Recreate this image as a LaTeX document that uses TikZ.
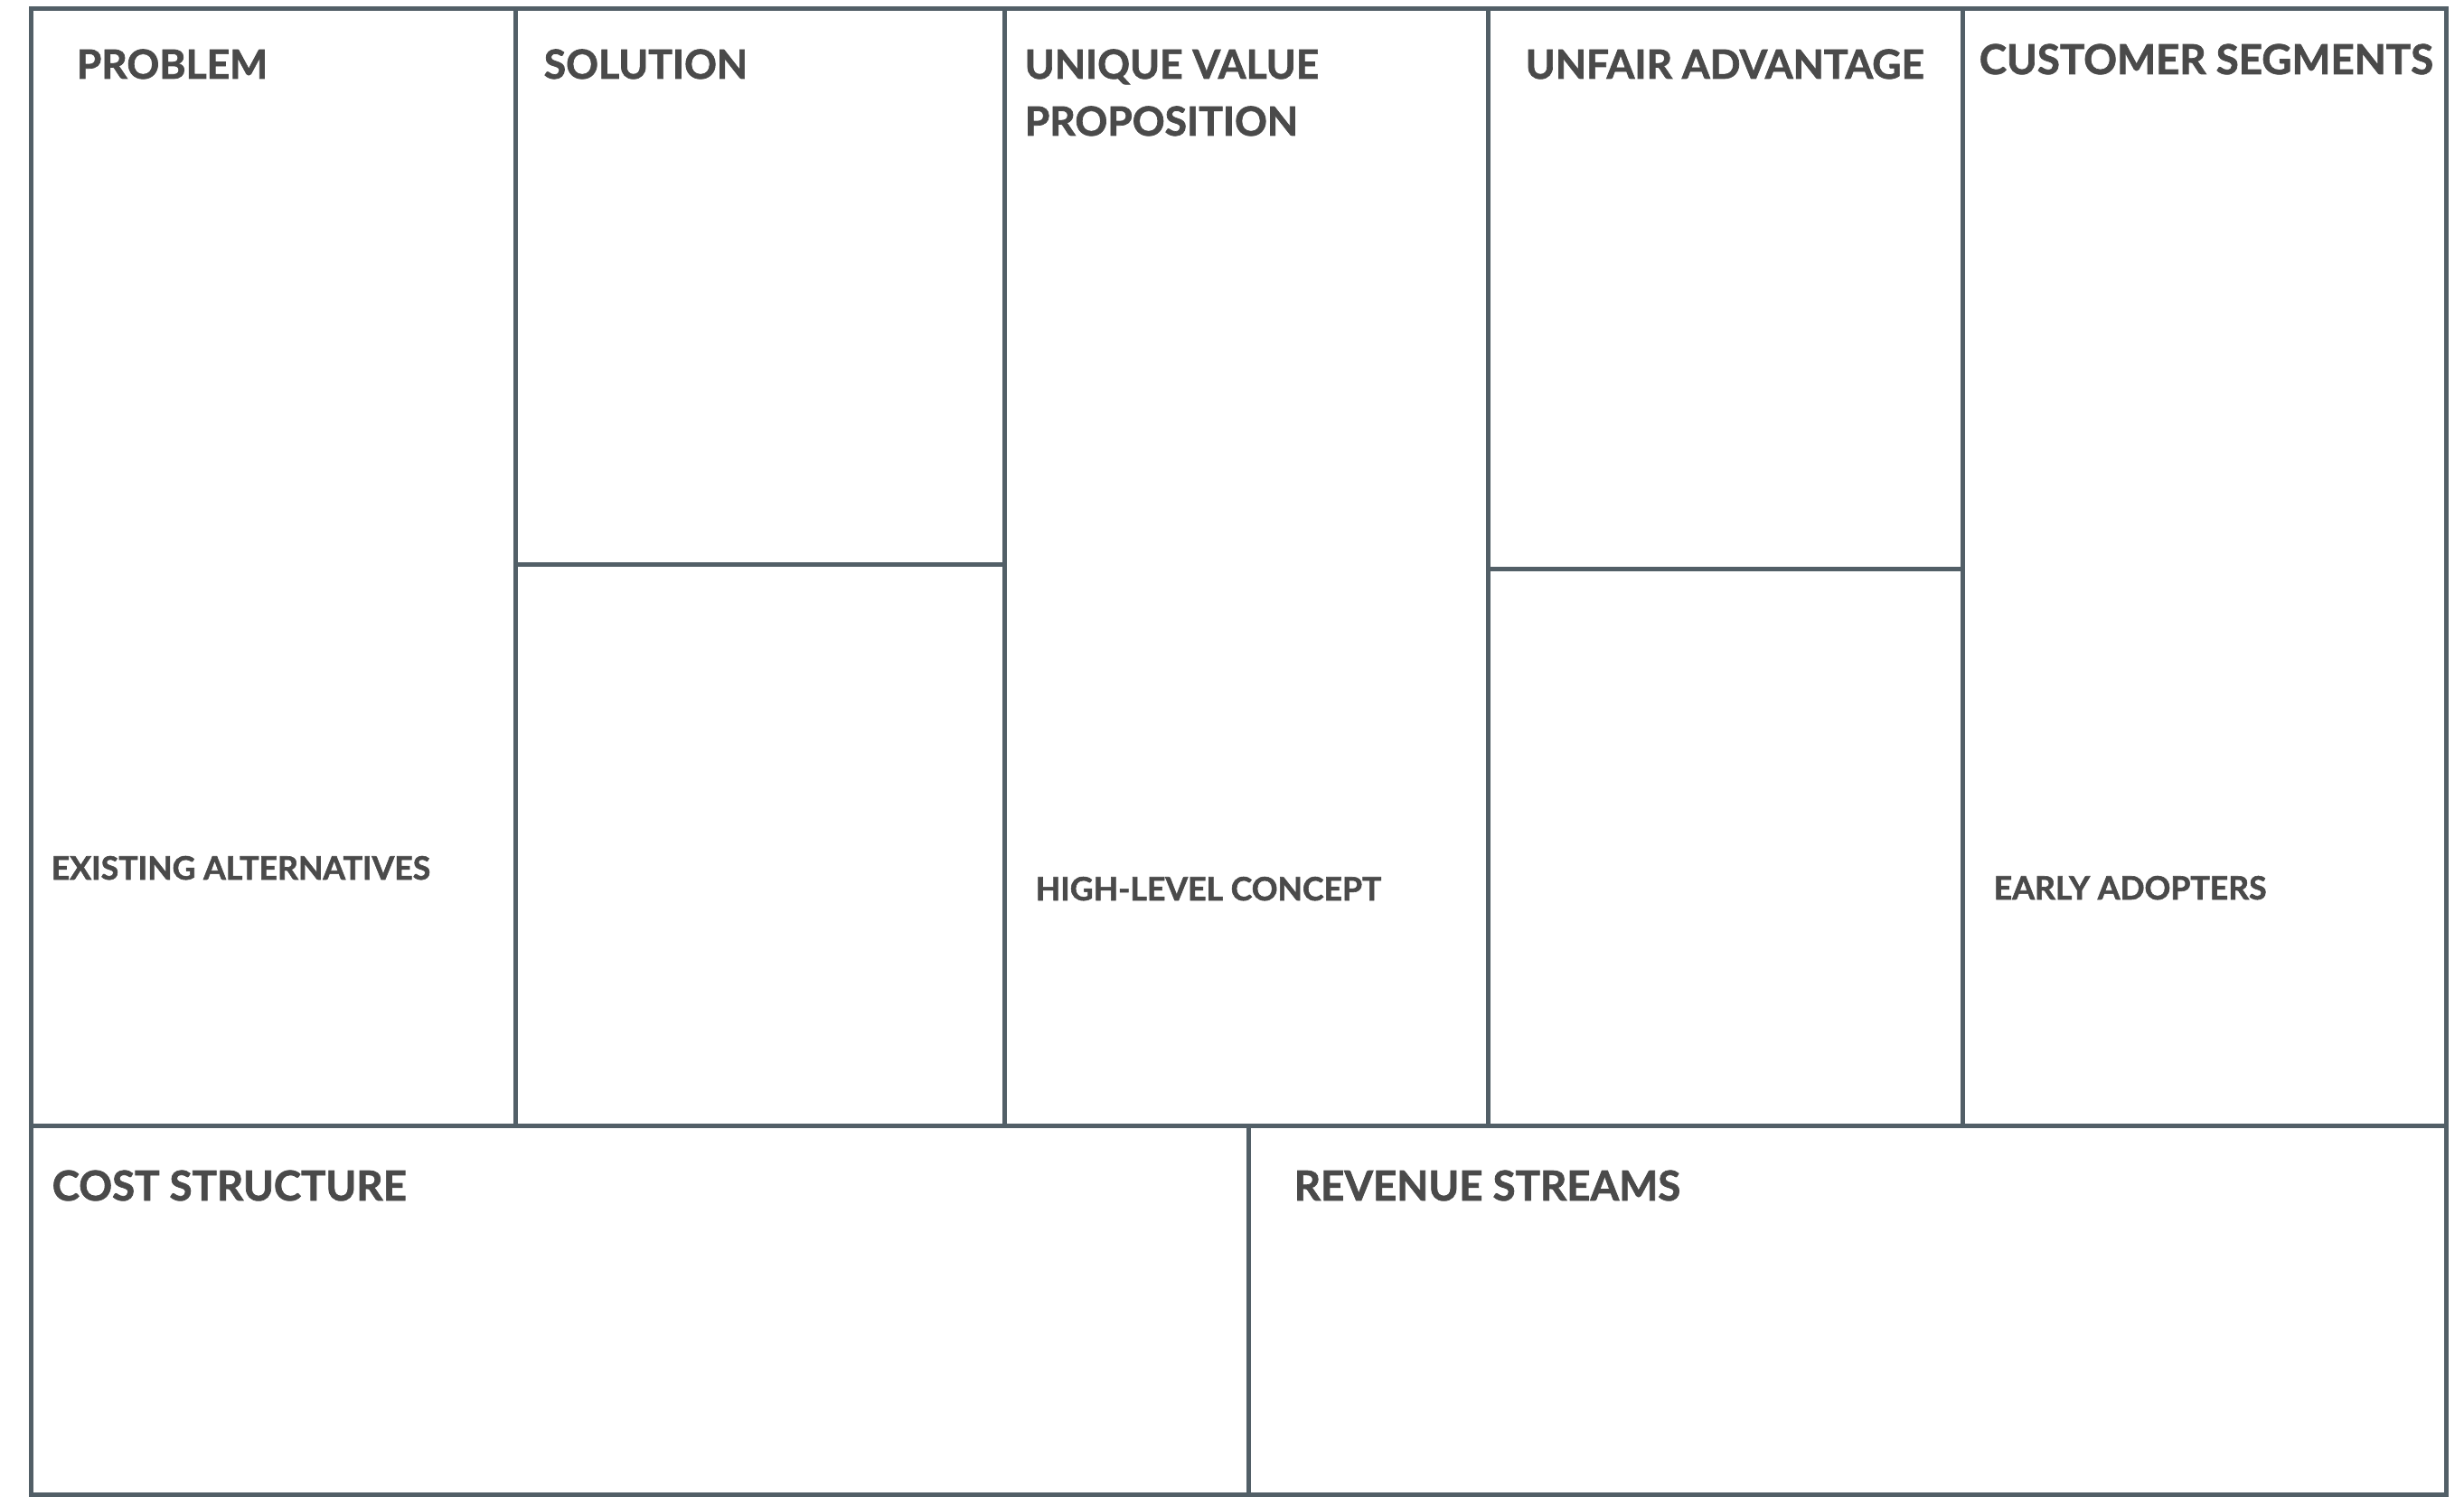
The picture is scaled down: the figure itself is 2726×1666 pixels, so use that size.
\documentclass[tikz,border=0pt]{standalone}
\usepackage{fontspec}
\setmainfont{Lato}[BoldFeatures={FakeBold=1.6}]
\definecolor{gridline}{HTML}{525F67}
\definecolor{labeltext}{HTML}{4A4A4A}
\begin{document}
\begin{tikzpicture}[x=0.25pt,y=-0.25pt,
  gridrule/.style={draw=gridline,line width=1.25pt},
  head/.style={anchor=base west,inner sep=0pt,text=labeltext,font=\fontsize{11.1}{13}\selectfont\bfseries},
  bighead/.style={head,font=\fontsize{11.4}{13}\selectfont\bfseries},
  sublabel/.style={anchor=base west,inner sep=0pt,text=labeltext,font=\fontsize{8.9}{10}\selectfont\bfseries}]
\useasboundingbox (0,0) rectangle (2726,1666);
\fill[white] (0,0) rectangle (2726,1666);
% frame and dividers
\draw[gridrule] (34.5,9.5) rectangle (2706.5,1653);
\draw[gridrule] (34.5,1245) -- (2706.5,1245);
\draw[gridrule] (570,9.5) -- (570,1245);
\draw[gridrule] (1111,9.5) -- (1111,1245);
\draw[gridrule] (1646.5,9.5) -- (1646.5,1245);
\draw[gridrule] (2171,9.5) -- (2171,1245);
\draw[gridrule] (570,624.5) -- (1111,624.5);
\draw[gridrule] (1646.5,629.5) -- (2171,629.5);
\draw[gridrule] (1381.5,1245) -- (1381.5,1653);
% headings
\node[head] (problem) at (84,87) {PROBLEM};
\node[head] (solution) at (601,87) {SOLUTION};
\node[head] (uvpa) at (1133,87) {UNIQUE VALUE};
\node[head] (uvpb) at (1133,150) {PROPOSITION};
\node[head] (unfair) at (1687,87) {UNFAIR ADVANTAGE};
\node[bighead] (customer) at (2189,82) {CUSTOMER SEGMENTS};
\node[bighead] (cost) at (57,1328) {COST STRUCTURE};
\node[bighead] (revenue) at (1431,1328) {REVENUE STREAMS};
% sub labels
\node[sublabel] (existing) at (56,973) {EXISTING ALTERNATIVES};
\node[sublabel] (highlevel) at (1145,996) {HIGH-LEVEL CONCEPT};
\node[sublabel] (early) at (2205,995) {EARLY ADOPTERS};
\end{tikzpicture}
\end{document}
